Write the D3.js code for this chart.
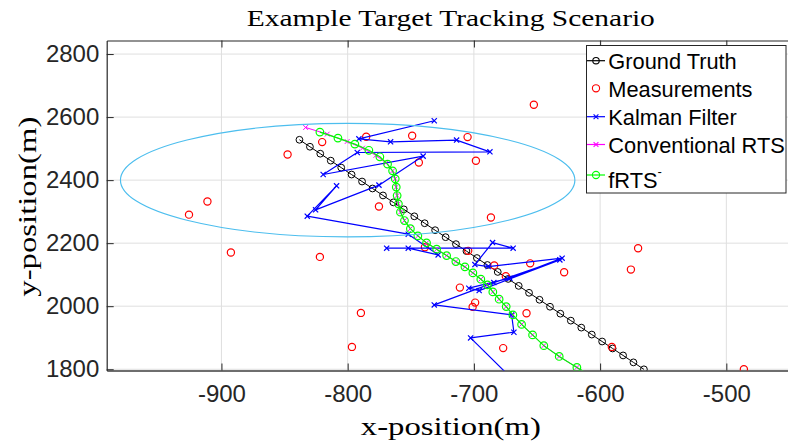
<!DOCTYPE html>
<html>
<head>
<meta charset="utf-8">
<script src="https://cdn.jsdelivr.net/npm/d3@7"></script>
<style>
  html, body { margin: 0; padding: 0; background: #fff; }
  svg { display: block; }
</style>
</head>
<body>
<svg id="chart" width="788" height="444"></svg>
<script>
// ---- data (metres) ----
const truthX = [-838.2,-829.9,-821.7,-813.4,-805.1,-796.9,-788.6,-780.3,-772.0,-763.8,-755.5,-747.2,-739.0,-730.7,-722.4,-714.2,-705.9,-697.6,-689.3,-681.1,-672.8,-664.5,-656.3,-648.0,-639.7,-631.5,-623.2,-614.9,-606.6,-598.4,-590.1,-581.8,-573.6,-565.3];
const truthY = [2528.0,2505.9,2483.9,2461.8,2439.7,2417.7,2395.6,2373.5,2351.4,2329.4,2307.3,2285.2,2263.2,2241.1,2219.0,2196.9,2174.9,2152.8,2130.7,2108.7,2086.6,2064.5,2042.5,2020.4,1998.3,1976.3,1954.2,1932.1,1910.0,1888.0,1865.9,1843.8,1821.8,1799.7];

const measX = [-652.5,-785.3,-748.9,-705.0,-820.2,-847.6,-743.6,-698.4,-775.2,-911.1,-925.7,-892.5,-822.0,-686.5,-738.8,-704.5,-683.9,-674.7,-655.4,-628.5,-569.9,-575.6,-711.1,-699.0,-701.0,-658.3,-676.8,-789.5,-796.6,-590.7,-486.1];
const measY = [2639.0,2537.5,2540.6,2536.5,2520.6,2481.3,2455.9,2461.3,2316.2,2332.1,2290.5,2170.2,2156.5,2281.3,2187.3,2175.6,2129.5,2095.2,2135.9,2107.9,2184.1,2116.2,2059.0,2011.4,1997.8,1977.8,1867.0,1978.7,1870.8,1870.8,1800.0];

const kalmanX = [-731.4,-791.1,-766.0,-713.7,-687.3,-792.4,-819.4,-740.2,-775.2,-825.4,-808.8,-832.0,-752.0,-728.3,-752.0,-769.1,-668.9,-685.2,-699.2,-688.7,-630.1,-671.5,-704.0,-695.8,-631.9,-684.2,-731.4,-670.1,-668.3,-702.6,-664.8];
const kalmanY = [2588.3,2531.1,2521.6,2527.0,2489.8,2487.6,2417.8,2476.2,2384.1,2305.7,2381.9,2285.7,2228.6,2162.9,2184.1,2184.1,2184.1,2201.9,2132.1,2125.7,2152.4,2088.9,2057.1,2049.5,2147.0,2074.9,2004.1,1972.4,1917.5,1899.4,1750.2];

const rtsX = [-833.3,-816.2,-800.4,-788.2,-777.6,-769.7,-764.4,-762.3,-761.5,-760.8,-759.8,-758.2,-755.0,-750.3,-744.4,-737.5,-729.5,-721.6,-714.3,-707.1,-700.8,-694.5,-689.3,-685.0,-680.0,-674.4,-669.1,-662.2,-653.5,-644.6,-632.4,-618.4,-604.2];
const rtsY = [2567.0,2546.0,2522.5,2501.6,2478.7,2454.9,2429.5,2404.1,2377.8,2351.1,2324.8,2298.4,2271.7,2246.0,2223.2,2201.0,2181.0,2160.6,2141.6,2124.8,2105.7,2085.7,2067.6,2045.4,2022.2,1998.7,1972.4,1942.2,1908.9,1874.9,1840.6,1805.7,1772.4];

const frtsX = [-822.0,-807.7,-794.3,-783.2,-774.5,-768.4,-764.4,-762.3,-761.5,-760.8,-759.8,-758.2,-755.0,-750.3,-744.4,-737.5,-729.5,-721.6,-714.3,-707.1,-700.8,-694.5,-689.3,-685.0,-680.0,-674.4,-669.1,-662.2,-653.5,-644.6,-632.4,-618.4,-604.2];
const frtsY = [2552.4,2533.3,2514.3,2494.6,2474.0,2450.8,2429.5,2404.1,2377.8,2351.1,2324.8,2298.4,2271.7,2246.0,2223.2,2201.0,2181.0,2160.6,2141.6,2124.8,2105.7,2085.7,2067.6,2045.4,2022.2,1998.7,1972.4,1942.2,1908.9,1874.9,1840.6,1805.7,1772.4];

// uncertainty region: centre and radius (m)
const regionCenter = [-800, 2400];
const regionRadius = [180, 180];

const xTicks = [-900, -800, -700, -600, -500];
const yTicks = [1800, 2000, 2200, 2400, 2600, 2800];
const legendLabels = ["Ground Truth", "Measurements", "Kalman Filter", "Conventional RTS", "fRTS"];

const titleText = "Example Target Tracking Scenario";
const xLabelText = "x-position(m)";
const yLabelText = "y-position(m)";

// ---- layout ----
const plot = { left: 106.7, right: 795, top: 40.5, bottom: 370.5 };
const axisColor = "#262626";
const gridColor = "#dfdfdf";
const serif = "'Liberation Serif', 'Times New Roman', serif";
const sans = "'Liberation Sans', Arial, Helvetica, sans-serif";
const plainNumber = d => String(d);   // hyphen minus, no thousands separator

const svg = d3.select("#chart");

const x = d3.scaleLinear().domain([-990.9, -445.6]).range([plot.left, plot.right]);
const y = d3.scaleLinear().domain([1796, 2843]).range([plot.bottom, plot.top]);

svg.append("defs").append("clipPath").attr("id", "plotClip")
  .append("rect")
  .attr("x", plot.left).attr("y", plot.top)
  .attr("width", plot.right - plot.left).attr("height", plot.bottom - plot.top);

// grid
const grid = svg.append("g").attr("stroke", gridColor).attr("stroke-width", 1);
grid.selectAll("line.gx").data(xTicks).join("line")
  .attr("x1", d => x(d)).attr("x2", d => x(d))
  .attr("y1", plot.top).attr("y2", plot.bottom);
grid.selectAll("line.gy").data(yTicks).join("line")
  .attr("x1", plot.left).attr("x2", plot.right)
  .attr("y1", d => y(d)).attr("y2", d => y(d));

// axes (ticks point inward)
const tickLen = 7;
const gx = svg.append("g").attr("transform", `translate(0,${plot.bottom})`)
  .call(d3.axisBottom(x).tickValues(xTicks).tickFormat(plainNumber)
    .tickSizeInner(-tickLen).tickSizeOuter(0).tickPadding(14.5));
const gy = svg.append("g").attr("transform", `translate(${plot.left},0)`)
  .call(d3.axisLeft(y).tickValues(yTicks).tickFormat(plainNumber)
    .tickSizeInner(-tickLen).tickSizeOuter(0).tickPadding(7.4));
const gt = svg.append("g").attr("transform", `translate(0,${plot.top})`)
  .call(d3.axisTop(x).tickValues(xTicks).tickSizeInner(-tickLen).tickSizeOuter(0).tickFormat(""));
const gr = svg.append("g").attr("transform", `translate(${plot.right},0)`)
  .call(d3.axisRight(y).tickValues(yTicks).tickSizeInner(-tickLen).tickSizeOuter(0).tickFormat(""));

[gx, gy, gt, gr].forEach(g => {
  g.selectAll("path.domain").attr("stroke", axisColor).attr("stroke-width", 1.2);
  g.selectAll(".tick line").attr("stroke", axisColor).attr("stroke-width", 1);
  g.selectAll(".tick text").attr("fill", axisColor).attr("font-family", sans).attr("font-size", 24);
});
gx.select("path.domain").attr("stroke", "#6e6e6e").attr("stroke-width", 2);

// data layer
const layer = svg.append("g").attr("clip-path", "url(#plotClip)");
const zip = (xs, ys) => xs.map((v, i) => [v, ys[i]]);
const line = d3.line().x(d => x(d[0])).y(d => y(d[1]));

function drawCircles(pts, color, r, sw) {
  layer.append("g").selectAll("circle").data(pts).join("circle")
    .attr("cx", d => x(d[0])).attr("cy", d => y(d[1])).attr("r", r)
    .attr("fill", "none").attr("stroke", color).attr("stroke-width", sw);
}
function drawCrosses(pts, color, s, sw) {
  layer.append("g").selectAll("path").data(pts).join("path")
    .attr("d", d => {
      const cx = x(d[0]), cy = y(d[1]);
      return `M${cx - s},${cy - s}L${cx + s},${cy + s}M${cx - s},${cy + s}L${cx + s},${cy - s}`;
    })
    .attr("stroke", color).attr("stroke-width", sw).attr("fill", "none");
}
function drawLine(pts, color, sw) {
  layer.append("path").datum(pts).attr("d", line)
    .attr("fill", "none").attr("stroke", color).attr("stroke-width", sw)
    .attr("stroke-linejoin", "round");
}

const truth = zip(truthX, truthY);
const meas = zip(measX, measY);
const kalman = zip(kalmanX, kalmanY);
const rts = zip(rtsX, rtsY);
const frts = zip(frtsX, frtsY);

drawLine(truth, "#000000", 1);
drawCircles(truth, "#000000", 3.4, 1);

drawCircles(meas, "#ff0000", 3.6, 1.2);

drawLine(kalman, "#0000ff", 1.2);
drawCrosses(kalman, "#0000ff", 2.6, 1.2);

drawLine(rts, "#ff00ff", 1);
drawCrosses(rts, "#ff00ff", 2.4, 1);

drawLine(frts, "#00ff00", 1.2);
drawCircles(frts, "#00ff00", 3.8, 1.2);

// uncertainty region
layer.append("ellipse")
  .attr("cx", x(regionCenter[0])).attr("cy", y(regionCenter[1]))
  .attr("rx", x(regionCenter[0] + regionRadius[0]) - x(regionCenter[0]))
  .attr("ry", y(regionCenter[1]) - y(regionCenter[1] + regionRadius[1]))
  .attr("fill", "none").attr("stroke", "#4dbeee").attr("stroke-width", 1.2);

// title and axis labels
svg.append("text").attr("x", (plot.left + plot.right) / 2).attr("y", 26)
  .attr("text-anchor", "middle").attr("font-family", serif).attr("font-size", 24)
  .attr("fill", "#000").attr("textLength", 408).attr("lengthAdjust", "spacingAndGlyphs")
  .text(titleText);
svg.append("text").attr("x", (plot.left + plot.right) / 2).attr("y", 435)
  .attr("text-anchor", "middle").attr("font-family", serif).attr("font-size", 25)
  .attr("fill", "#000").attr("textLength", 180).attr("lengthAdjust", "spacingAndGlyphs")
  .text(xLabelText);
svg.append("text").attr("transform", `translate(36,206.7) rotate(-90)`)
  .attr("text-anchor", "middle").attr("font-family", serif).attr("font-size", 25)
  .attr("fill", "#000").attr("textLength", 180).attr("lengthAdjust", "spacingAndGlyphs")
  .text(yLabelText);

// legend
const lg = svg.append("g");
lg.append("rect").attr("x", 586.5).attr("y", 45.5).attr("width", 199.5).attr("height", 147.5)
  .attr("fill", "#fff").attr("stroke", axisColor).attr("stroke-width", 1);
const rowY = [60.7, 88.3, 116.7, 144.5, 175];
const baseY = [69.3, 96.7, 125, 152.7, 188.3];
const styles = [
  { color: "#000000", line: true, marker: "circle", r: 3.2 },
  { color: "#ff0000", line: false, marker: "circle", r: 3.6 },
  { color: "#0000ff", line: true, marker: "cross", r: 2.4 },
  { color: "#ff00ff", line: true, marker: "cross", r: 2.4 },
  { color: "#00ff00", line: true, marker: "circle", r: 3.6 }
];
legendLabels.forEach((lab, i) => {
  const st = styles[i];
  const cy = rowY[i];
  if (st.line) {
    lg.append("line").attr("x1", 587).attr("x2", 605).attr("y1", cy).attr("y2", cy)
      .attr("stroke", st.color).attr("stroke-width", 1.2);
  }
  if (st.marker === "circle") {
    lg.append("circle").attr("cx", 596).attr("cy", cy).attr("r", st.r)
      .attr("fill", "none").attr("stroke", st.color).attr("stroke-width", 1.1);
  } else {
    const s = st.r;
    lg.append("path").attr("d", `M${596 - s},${cy - s}L${596 + s},${cy + s}M${596 - s},${cy + s}L${596 + s},${cy - s}`)
      .attr("stroke", st.color).attr("stroke-width", 1.1);
  }
  const t = lg.append("text").attr("x", 608.3).attr("y", baseY[i])
    .attr("font-family", sans).attr("font-size", 21.8).attr("fill", "#000").text(lab);
  if (i === 4) {
    t.append("tspan").attr("dy", -12).attr("font-size", 13).text("-");
  }
});
</script>
</body>
</html>
